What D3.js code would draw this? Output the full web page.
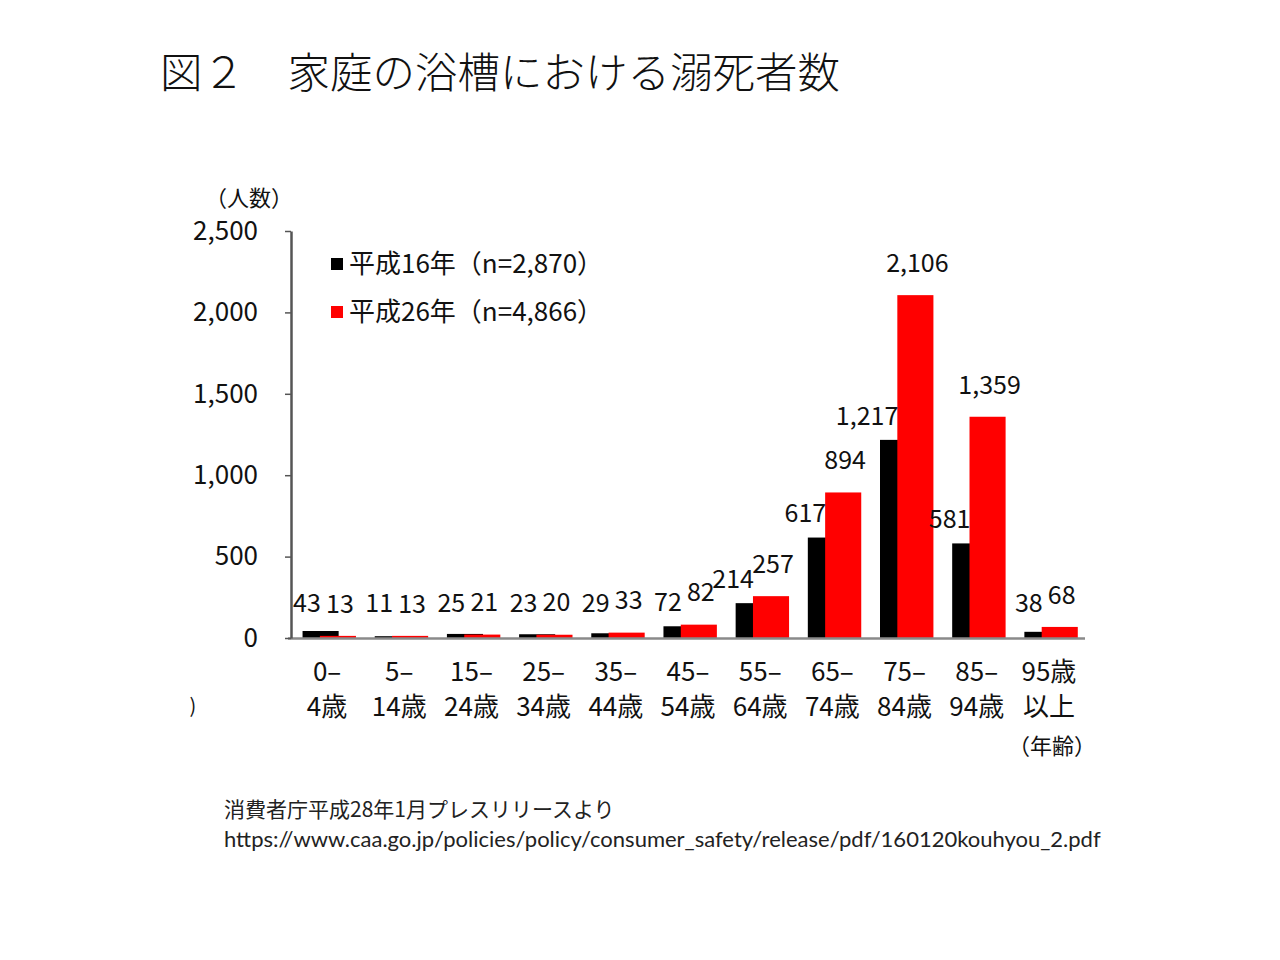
<!DOCTYPE html>
<html>
<head>
<meta charset="utf-8">
<script src="https://cdn.jsdelivr.net/npm/d3@7"></script>
<style>
  body { margin: 0; background: #fff; }
  svg text { font-family: 'Liberation Sans Narrow', 'Noto Sans CJK JP', sans-serif; }
</style>
</head>
<body>
<script>
// age groups, two lines each
let ageTop = ["0–", "5–", "15–", "25–", "35–", "45–", "55–", "65–", "75–", "85–", "95歳"];
let ageBottom = ["4歳", "14歳", "24歳", "34歳", "44歳", "54歳", "64歳", "74歳", "84歳", "94歳", "以上"];
let h16 = [43, 11, 25, 23, 29, 72, 214, 617, 1217, 581, 38];
let h26 = [13, 13, 21, 20, 33, 82, 257, 894, 2106, 1359, 68];
let yTicks = [0, 500, 1000, 1500, 2000, 2500];
let legendNames = ["平成16年（n=2,870）", "平成26年（n=4,866）"];
let seriesColors = ["#000000", "#ff0000"];

let svg = d3.select('body').append('svg')
    .attr('width', 1280)
    .attr('height', 960);

// title
svg.append('text')
    .attr('x', 160).attr('y', 88)
    .style('font-family', "'Noto Sans CJK JP', sans-serif")
    .style('font-weight', 300)
    .style('font-size', '42.5px')
    .attr('fill', '#111')
    .text('図２　家庭の浴槽における溺死者数');

let xScale = d3.scaleBand()
    .domain(ageTop)
    .range([291, 1085])
    .paddingInner(0)
    .paddingOuter(0);

let yScale = d3.scaleLinear()
    .domain([0, 2500])
    .range([638, 231]);

let bw = xScale.bandwidth();
let barW = bw * 0.5;
let blackOff = bw * 0.16;
let redOff = bw * 0.4;

// bars: black first, red on top
let bars = svg.append('g').attr('class', 'bars');
bars.selectAll('rect.b16')
    .data(h16)
    .enter().append('rect')
    .attr('class', 'b16')
    .attr('x', (d, i) => xScale(ageTop[i]) + blackOff)
    .attr('y', d => yScale(d))
    .attr('width', barW)
    .attr('height', d => yScale(0) - yScale(d))
    .attr('fill', seriesColors[0]);
bars.selectAll('rect.b26')
    .data(h26)
    .enter().append('rect')
    .attr('class', 'b26')
    .attr('x', (d, i) => xScale(ageTop[i]) + redOff)
    .attr('y', d => yScale(d))
    .attr('width', barW)
    .attr('height', d => yScale(0) - yScale(d))
    .attr('fill', seriesColors[1]);

// x axis line
svg.append('line')
    .attr('x1', 288).attr('x2', 1085)
    .attr('y1', yScale(0) + 0.5).attr('y2', yScale(0) + 0.5)
    .attr('stroke', '#8a8a8a')
    .attr('stroke-width', 2.5);

// y axis
let yAxis = d3.axisLeft(yScale)
    .tickValues(yTicks)
    .tickSize(6)
    .tickSizeOuter(0)
    .tickPadding(27)
    .tickFormat(d3.format(','));
let yg = svg.append('g')
    .attr('class', 'y axis')
    .attr('transform', 'translate(291, 0)')
    .call(yAxis);
yg.select('.domain').attr('stroke', '#555').attr('stroke-width', 2.5);
yg.selectAll('.tick line').attr('stroke', '#555').attr('stroke-width', 1.5);
yg.selectAll('.tick text')
    .style('font-size', '26px')
    .attr('fill', '#111');

// data labels
let labels = svg.append('g').attr('class', 'labels')
    .style('font-size', '25px')
    .attr('fill', '#111');
labels.selectAll('text.l16')
    .data(h16)
    .enter().append('text')
    .attr('class', 'l16')
    .attr('x', (d, i) => xScale(ageTop[i]) + redOff + 1)
    .attr('y', d => Math.min(yScale(d) - 24, 603))
    .attr('dy', '0.35em')
    .attr('text-anchor', 'end')
    .text(d => d3.format(',')(d));
labels.selectAll('text.l26')
    .data(h26)
    .enter().append('text')
    .attr('class', 'l26')
    .attr('x', (d, i) => xScale(ageTop[i]) + redOff + barW / 2 + 2)
    .attr('y', d => yScale(d) - 32)
    .attr('dy', '0.35em')
    .attr('text-anchor', 'middle')
    .text(d => d3.format(',')(d));

// x category labels
let xl = svg.append('g').attr('class', 'x labels')
    .style('font-size', '26px')
    .attr('fill', '#111')
    .attr('text-anchor', 'middle');
ageTop.forEach((a, i) => {
    let cx = xScale(a) + bw / 2;
    xl.append('text').attr('x', cx).attr('y', 672).attr('dy', '0.35em').text(a);
    xl.append('text').attr('x', cx).attr('y', 707).attr('dy', '0.35em').text(ageBottom[i]);
});

// axis captions
svg.append('text')
    .attr('x', 249).attr('y', 198).attr('dy', '0.35em')
    .attr('text-anchor', 'middle')
    .style('font-size', '22px')
    .attr('fill', '#111')
    .text('（人数）');
svg.append('text')
    .attr('x', 1052).attr('y', 746).attr('dy', '0.35em')
    .attr('text-anchor', 'middle')
    .style('font-size', '22px')
    .attr('fill', '#111')
    .text('（年齢）');
svg.append('text')
    .attr('x', 193).attr('y', 706).attr('dy', '0.35em')
    .attr('text-anchor', 'middle')
    .style('font-size', '20px')
    .attr('fill', '#111')
    .text(')');

// legend
let legend = svg.append('g').attr('class', 'legend');
legendNames.forEach((name, i) => {
    let ly = 264 + i * 48;
    legend.append('rect')
        .attr('x', 331).attr('y', ly - 6)
        .attr('width', 12).attr('height', 12)
        .attr('fill', seriesColors[i]);
    legend.append('text')
        .attr('x', 349).attr('y', ly).attr('dy', '0.35em')
        .style('font-size', '26px')
        .attr('fill', '#111')
        .text(name);
});

// source
svg.append('text').attr('x', 224).attr('y', 810).attr('dy', '0.35em')
    .style('font-family', "'Noto Sans CJK JP', sans-serif")
    .style('font-size', '21px')
    .attr('fill', '#222')
    .text('消費者庁平成28年1月プレスリリースより');
svg.append('text').attr('x', 224).attr('y', 839).attr('dy', '0.35em')
    .style('font-family', "Lato, sans-serif")
    .style('font-size', '22px')
    .attr('fill', '#222')
    .text('https://www.caa.go.jp/policies/policy/consumer_safety/release/pdf/160120kouhyou_2.pdf');
</script>
</body>
</html>
